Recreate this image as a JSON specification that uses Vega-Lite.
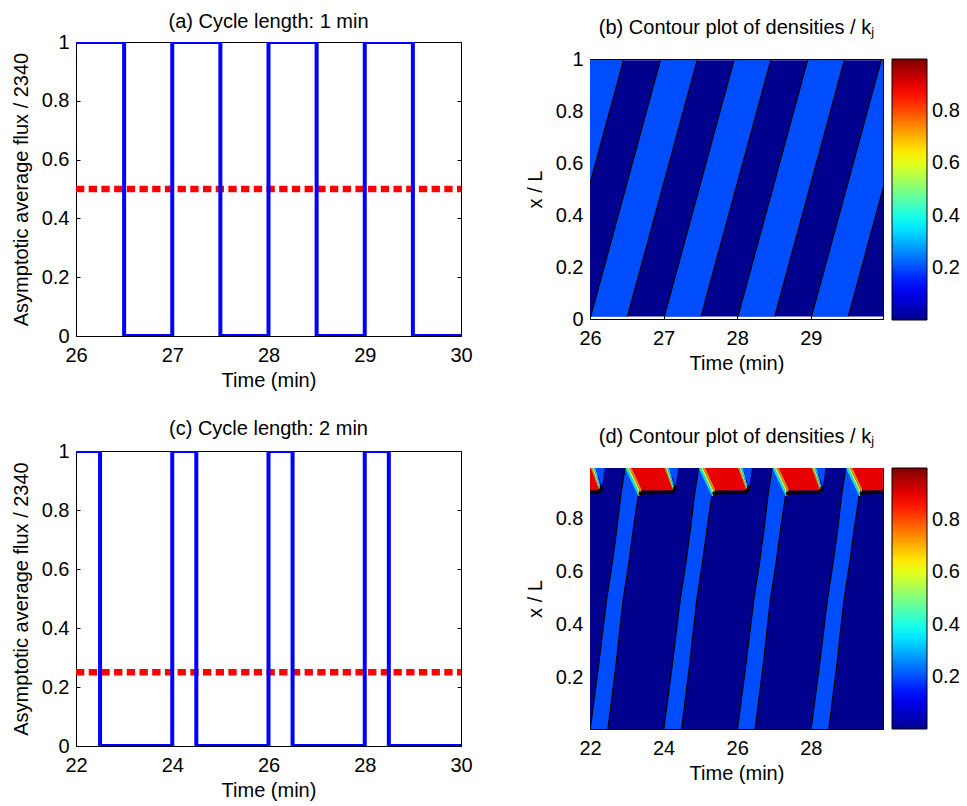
{
  "$schema": "https://vega.github.io/schema/vega-lite/v6.json",
  "background": "white",
  "padding": {"left": 10, "top": 11, "right": 5, "bottom": 5},
  "config": {
    "font": "Liberation Sans",
    "view": {"stroke": "#000000", "strokeWidth": 1},
    "axis": {"domain": false, "grid": false, "labelFont": "Liberation Sans", "labelFontSize": 20, "labelColor": "#000000", "titleFont": "Liberation Sans", "titleFontSize": 20, "titleFontWeight": "normal", "titleColor": "#000000", "tickColor": "#000000", "tickSize": -4, "tickWidth": 1, "labelPadding": 11, "titlePadding": 10, "labelFlush": false, "labelOverlap": false, "labelBound": false},
    "axisBottom": {"labelPadding": 13, "titlePadding": 5},
    "title": {"font": "Liberation Sans", "fontSize": 20, "fontWeight": "normal", "color": "#000000", "baseline": "alphabetic"}
  },
  "datasets": {
    "fluxA": [
      {"i": 0, "t": 26, "f": 1}, {"i": 1, "t": 26.5, "f": 1}, {"i": 2, "t": 26.5, "f": 0}, {"i": 3, "t": 27, "f": 0},
      {"i": 4, "t": 27, "f": 1}, {"i": 5, "t": 27.5, "f": 1}, {"i": 6, "t": 27.5, "f": 0}, {"i": 7, "t": 28, "f": 0},
      {"i": 8, "t": 28, "f": 1}, {"i": 9, "t": 28.5, "f": 1}, {"i": 10, "t": 28.5, "f": 0}, {"i": 11, "t": 29, "f": 0},
      {"i": 12, "t": 29, "f": 1}, {"i": 13, "t": 29.5, "f": 1}, {"i": 14, "t": 29.5, "f": 0}, {"i": 15, "t": 30, "f": 0}
    ],
    "fluxC": [
      {"i": 0, "t": 22, "f": 1}, {"i": 1, "t": 22.5, "f": 1}, {"i": 2, "t": 22.5, "f": 0}, {"i": 3, "t": 24, "f": 0},
      {"i": 4, "t": 24, "f": 1}, {"i": 5, "t": 24.5, "f": 1}, {"i": 6, "t": 24.5, "f": 0}, {"i": 7, "t": 26, "f": 0},
      {"i": 8, "t": 26, "f": 1}, {"i": 9, "t": 26.5, "f": 1}, {"i": 10, "t": 26.5, "f": 0}, {"i": 11, "t": 28, "f": 0},
      {"i": 12, "t": 28, "f": 1}, {"i": 13, "t": 28.5, "f": 1}, {"i": 14, "t": 28.5, "f": 0}, {"i": 15, "t": 30, "f": 0}
    ],
    "bStripes": [
      {"id": "k25", "y": 0.01, "x0": 25.0096, "x1": 25.5096, "v": 0.2}, {"id": "k25", "y": 0.995, "x0": 25.955, "x1": 26.455, "v": 0.2},
      {"id": "k26", "y": 0.01, "x0": 26.0096, "x1": 26.5096, "v": 0.2}, {"id": "k26", "y": 0.995, "x0": 26.955, "x1": 27.455, "v": 0.2},
      {"id": "k27", "y": 0.01, "x0": 27.0096, "x1": 27.5096, "v": 0.2}, {"id": "k27", "y": 0.995, "x0": 27.955, "x1": 28.455, "v": 0.2},
      {"id": "k28", "y": 0.01, "x0": 28.0096, "x1": 28.5096, "v": 0.2}, {"id": "k28", "y": 0.995, "x0": 28.955, "x1": 29.455, "v": 0.2},
      {"id": "k29", "y": 0.01, "x0": 29.0096, "x1": 29.5096, "v": 0.2}, {"id": "k29", "y": 0.995, "x0": 29.955, "x1": 30.455, "v": 0.2}
    ],
    "bEdges": [
      {"a": 25.5096, "b": 26.455, "ya": 0.01, "yb": 0.995},
      {"a": 26.0096, "b": 26.955, "ya": 0.01, "yb": 0.995},
      {"a": 26.5096, "b": 27.455, "ya": 0.01, "yb": 0.995},
      {"a": 27.0096, "b": 27.955, "ya": 0.01, "yb": 0.995},
      {"a": 27.5096, "b": 28.455, "ya": 0.01, "yb": 0.995},
      {"a": 28.0096, "b": 28.955, "ya": 0.01, "yb": 0.995},
      {"a": 28.5096, "b": 29.455, "ya": 0.01, "yb": 0.995},
      {"a": 29.0096, "b": 29.955, "ya": 0.01, "yb": 0.995},
      {"a": 29.5096, "b": 30.455, "ya": 0.01, "yb": 0.995}
    ],
    "dAreas": [
      {"id": "s22", "y": 0.0, "x0": 22.0, "x1": 22.48, "v": 0.2}, {"id": "s22", "y": 0.243, "x0": 22.23, "x1": 22.7, "v": 0.2}, {"id": "s22", "y": 0.494, "x0": 22.45, "x1": 22.9, "v": 0.2}, {"id": "s22", "y": 0.638, "x0": 22.61, "x1": 23.06, "v": 0.2}, {"id": "s22", "y": 0.763, "x0": 22.73, "x1": 23.18, "v": 0.2}, {"id": "s22", "y": 0.885, "x0": 22.835, "x1": 23.31, "v": 0.2}, {"id": "s22", "y": 0.99, "x0": 22.95, "x1": 22.95, "v": 0.2},
      {"id": "s24", "y": 0.0, "x0": 24.0, "x1": 24.48, "v": 0.2}, {"id": "s24", "y": 0.243, "x0": 24.23, "x1": 24.7, "v": 0.2}, {"id": "s24", "y": 0.494, "x0": 24.45, "x1": 24.9, "v": 0.2}, {"id": "s24", "y": 0.638, "x0": 24.61, "x1": 25.06, "v": 0.2}, {"id": "s24", "y": 0.763, "x0": 24.73, "x1": 25.18, "v": 0.2}, {"id": "s24", "y": 0.885, "x0": 24.835, "x1": 25.31, "v": 0.2}, {"id": "s24", "y": 0.99, "x0": 24.95, "x1": 24.95, "v": 0.2},
      {"id": "s26", "y": 0.0, "x0": 26.0, "x1": 26.48, "v": 0.2}, {"id": "s26", "y": 0.243, "x0": 26.23, "x1": 26.7, "v": 0.2}, {"id": "s26", "y": 0.494, "x0": 26.45, "x1": 26.9, "v": 0.2}, {"id": "s26", "y": 0.638, "x0": 26.61, "x1": 27.06, "v": 0.2}, {"id": "s26", "y": 0.763, "x0": 26.73, "x1": 27.18, "v": 0.2}, {"id": "s26", "y": 0.885, "x0": 26.835, "x1": 27.31, "v": 0.2}, {"id": "s26", "y": 0.99, "x0": 26.95, "x1": 26.95, "v": 0.2},
      {"id": "s28", "y": 0.0, "x0": 28.0, "x1": 28.48, "v": 0.2}, {"id": "s28", "y": 0.243, "x0": 28.23, "x1": 28.7, "v": 0.2}, {"id": "s28", "y": 0.494, "x0": 28.45, "x1": 28.9, "v": 0.2}, {"id": "s28", "y": 0.638, "x0": 28.61, "x1": 29.06, "v": 0.2}, {"id": "s28", "y": 0.763, "x0": 28.73, "x1": 29.18, "v": 0.2}, {"id": "s28", "y": 0.885, "x0": 28.835, "x1": 29.31, "v": 0.2}, {"id": "s28", "y": 0.99, "x0": 28.95, "x1": 28.95, "v": 0.2},
      {"id": "r20", "y": 0.905, "x0": 21.42, "x1": 22.25, "v": 0.9}, {"id": "r20", "y": 0.99, "x0": 21.13, "x1": 22.02, "v": 0.9},
      {"id": "r22", "y": 0.905, "x0": 23.42, "x1": 24.25, "v": 0.9}, {"id": "r22", "y": 0.99, "x0": 23.13, "x1": 24.02, "v": 0.9},
      {"id": "r24", "y": 0.905, "x0": 25.42, "x1": 26.25, "v": 0.9}, {"id": "r24", "y": 0.99, "x0": 25.13, "x1": 26.02, "v": 0.9},
      {"id": "r26", "y": 0.905, "x0": 27.42, "x1": 28.25, "v": 0.9}, {"id": "r26", "y": 0.99, "x0": 27.13, "x1": 28.02, "v": 0.9},
      {"id": "r28", "y": 0.905, "x0": 29.42, "x1": 30.25, "v": 0.9}, {"id": "r28", "y": 0.99, "x0": 29.13, "x1": 30.02, "v": 0.9},
      {"id": "fa22", "y": 0.885, "x0": 23.31, "x1": 23.3267, "v": 0.35}, {"id": "fa22", "y": 0.91, "x0": 23.224, "x1": 23.283, "v": 0.35}, {"id": "fa22", "y": 0.99, "x0": 22.95, "x1": 23.01, "v": 0.35},
      {"id": "fb22", "y": 0.885, "x0": 23.3267, "x1": 23.3433, "v": 0.55}, {"id": "fb22", "y": 0.91, "x0": 23.283, "x1": 23.341, "v": 0.55}, {"id": "fb22", "y": 0.99, "x0": 23.01, "x1": 23.07, "v": 0.55},
      {"id": "fc22", "y": 0.885, "x0": 23.3433, "x1": 23.36, "v": 0.75}, {"id": "fc22", "y": 0.91, "x0": 23.341, "x1": 23.4, "v": 0.75}, {"id": "fc22", "y": 0.99, "x0": 23.07, "x1": 23.13, "v": 0.75},
      {"id": "fa24", "y": 0.885, "x0": 25.31, "x1": 25.3267, "v": 0.35}, {"id": "fa24", "y": 0.91, "x0": 25.224, "x1": 25.283, "v": 0.35}, {"id": "fa24", "y": 0.99, "x0": 24.95, "x1": 25.01, "v": 0.35},
      {"id": "fb24", "y": 0.885, "x0": 25.3267, "x1": 25.3433, "v": 0.55}, {"id": "fb24", "y": 0.91, "x0": 25.283, "x1": 25.341, "v": 0.55}, {"id": "fb24", "y": 0.99, "x0": 25.01, "x1": 25.07, "v": 0.55},
      {"id": "fc24", "y": 0.885, "x0": 25.3433, "x1": 25.36, "v": 0.75}, {"id": "fc24", "y": 0.91, "x0": 25.341, "x1": 25.4, "v": 0.75}, {"id": "fc24", "y": 0.99, "x0": 25.07, "x1": 25.13, "v": 0.75},
      {"id": "fa26", "y": 0.885, "x0": 27.31, "x1": 27.3267, "v": 0.35}, {"id": "fa26", "y": 0.91, "x0": 27.224, "x1": 27.283, "v": 0.35}, {"id": "fa26", "y": 0.99, "x0": 26.95, "x1": 27.01, "v": 0.35},
      {"id": "fb26", "y": 0.885, "x0": 27.3267, "x1": 27.3433, "v": 0.55}, {"id": "fb26", "y": 0.91, "x0": 27.283, "x1": 27.341, "v": 0.55}, {"id": "fb26", "y": 0.99, "x0": 27.01, "x1": 27.07, "v": 0.55},
      {"id": "fc26", "y": 0.885, "x0": 27.3433, "x1": 27.36, "v": 0.75}, {"id": "fc26", "y": 0.91, "x0": 27.341, "x1": 27.4, "v": 0.75}, {"id": "fc26", "y": 0.99, "x0": 27.07, "x1": 27.13, "v": 0.75},
      {"id": "fa28", "y": 0.885, "x0": 29.31, "x1": 29.3267, "v": 0.35}, {"id": "fa28", "y": 0.91, "x0": 29.224, "x1": 29.283, "v": 0.35}, {"id": "fa28", "y": 0.99, "x0": 28.95, "x1": 29.01, "v": 0.35},
      {"id": "fb28", "y": 0.885, "x0": 29.3267, "x1": 29.3433, "v": 0.55}, {"id": "fb28", "y": 0.91, "x0": 29.283, "x1": 29.341, "v": 0.55}, {"id": "fb28", "y": 0.99, "x0": 29.01, "x1": 29.07, "v": 0.55},
      {"id": "fc28", "y": 0.885, "x0": 29.3433, "x1": 29.36, "v": 0.75}, {"id": "fc28", "y": 0.91, "x0": 29.341, "x1": 29.4, "v": 0.75}, {"id": "fc28", "y": 0.99, "x0": 29.07, "x1": 29.13, "v": 0.75},
      {"id": "ga20", "y": 0.905, "x0": 22.25, "x1": 22.27, "v": 0.75}, {"id": "ga20", "y": 0.99, "x0": 22.02, "x1": 22.063, "v": 0.75},
      {"id": "gb20", "y": 0.905, "x0": 22.27, "x1": 22.29, "v": 0.55}, {"id": "gb20", "y": 0.99, "x0": 22.063, "x1": 22.107, "v": 0.55},
      {"id": "gc20", "y": 0.905, "x0": 22.29, "x1": 22.31, "v": 0.35}, {"id": "gc20", "y": 0.99, "x0": 22.107, "x1": 22.15, "v": 0.35},
      {"id": "ga22", "y": 0.905, "x0": 24.25, "x1": 24.27, "v": 0.75}, {"id": "ga22", "y": 0.99, "x0": 24.02, "x1": 24.063, "v": 0.75},
      {"id": "gb22", "y": 0.905, "x0": 24.27, "x1": 24.29, "v": 0.55}, {"id": "gb22", "y": 0.99, "x0": 24.063, "x1": 24.107, "v": 0.55},
      {"id": "gc22", "y": 0.905, "x0": 24.29, "x1": 24.31, "v": 0.35}, {"id": "gc22", "y": 0.99, "x0": 24.107, "x1": 24.15, "v": 0.35},
      {"id": "ga24", "y": 0.905, "x0": 26.25, "x1": 26.27, "v": 0.75}, {"id": "ga24", "y": 0.99, "x0": 26.02, "x1": 26.063, "v": 0.75},
      {"id": "gb24", "y": 0.905, "x0": 26.27, "x1": 26.29, "v": 0.55}, {"id": "gb24", "y": 0.99, "x0": 26.063, "x1": 26.107, "v": 0.55},
      {"id": "gc24", "y": 0.905, "x0": 26.29, "x1": 26.31, "v": 0.35}, {"id": "gc24", "y": 0.99, "x0": 26.107, "x1": 26.15, "v": 0.35},
      {"id": "ga26", "y": 0.905, "x0": 28.25, "x1": 28.27, "v": 0.75}, {"id": "ga26", "y": 0.99, "x0": 28.02, "x1": 28.063, "v": 0.75},
      {"id": "gb26", "y": 0.905, "x0": 28.27, "x1": 28.29, "v": 0.55}, {"id": "gb26", "y": 0.99, "x0": 28.063, "x1": 28.107, "v": 0.55},
      {"id": "gc26", "y": 0.905, "x0": 28.29, "x1": 28.31, "v": 0.35}, {"id": "gc26", "y": 0.99, "x0": 28.107, "x1": 28.15, "v": 0.35},
      {"id": "w20", "y": 0.925, "x0": 22.315, "x1": 22.33, "v": 0.2}, {"id": "w20", "y": 0.99, "x0": 22.15, "x1": 22.4, "v": 0.2},
      {"id": "w22", "y": 0.925, "x0": 24.315, "x1": 24.33, "v": 0.2}, {"id": "w22", "y": 0.99, "x0": 24.15, "x1": 24.4, "v": 0.2},
      {"id": "w24", "y": 0.925, "x0": 26.315, "x1": 26.33, "v": 0.2}, {"id": "w24", "y": 0.99, "x0": 26.15, "x1": 26.4, "v": 0.2},
      {"id": "w26", "y": 0.925, "x0": 28.315, "x1": 28.33, "v": 0.2}, {"id": "w26", "y": 0.99, "x0": 28.15, "x1": 28.4, "v": 0.2}
    ],
    "dThin": [
      {"id": "L22", "i": 0, "t": 22.0, "y": 0.0}, {"id": "L22", "i": 1, "t": 22.23, "y": 0.243}, {"id": "L22", "i": 2, "t": 22.45, "y": 0.494}, {"id": "L22", "i": 3, "t": 22.61, "y": 0.638}, {"id": "L22", "i": 4, "t": 22.73, "y": 0.763}, {"id": "L22", "i": 5, "t": 22.835, "y": 0.885}, {"id": "L22", "i": 6, "t": 22.95, "y": 0.99},
      {"id": "L24", "i": 0, "t": 24.0, "y": 0.0}, {"id": "L24", "i": 1, "t": 24.23, "y": 0.243}, {"id": "L24", "i": 2, "t": 24.45, "y": 0.494}, {"id": "L24", "i": 3, "t": 24.61, "y": 0.638}, {"id": "L24", "i": 4, "t": 24.73, "y": 0.763}, {"id": "L24", "i": 5, "t": 24.835, "y": 0.885}, {"id": "L24", "i": 6, "t": 24.95, "y": 0.99},
      {"id": "L26", "i": 0, "t": 26.0, "y": 0.0}, {"id": "L26", "i": 1, "t": 26.23, "y": 0.243}, {"id": "L26", "i": 2, "t": 26.45, "y": 0.494}, {"id": "L26", "i": 3, "t": 26.61, "y": 0.638}, {"id": "L26", "i": 4, "t": 26.73, "y": 0.763}, {"id": "L26", "i": 5, "t": 26.835, "y": 0.885}, {"id": "L26", "i": 6, "t": 26.95, "y": 0.99},
      {"id": "L28", "i": 0, "t": 28.0, "y": 0.0}, {"id": "L28", "i": 1, "t": 28.23, "y": 0.243}, {"id": "L28", "i": 2, "t": 28.45, "y": 0.494}, {"id": "L28", "i": 3, "t": 28.61, "y": 0.638}, {"id": "L28", "i": 4, "t": 28.73, "y": 0.763}, {"id": "L28", "i": 5, "t": 28.835, "y": 0.885}, {"id": "L28", "i": 6, "t": 28.95, "y": 0.99},
      {"id": "R22", "i": 0, "t": 22.48, "y": 0.0}, {"id": "R22", "i": 1, "t": 22.7, "y": 0.243}, {"id": "R22", "i": 2, "t": 22.9, "y": 0.494}, {"id": "R22", "i": 3, "t": 23.06, "y": 0.638}, {"id": "R22", "i": 4, "t": 23.18, "y": 0.763}, {"id": "R22", "i": 5, "t": 23.31, "y": 0.885},
      {"id": "R24", "i": 0, "t": 24.48, "y": 0.0}, {"id": "R24", "i": 1, "t": 24.7, "y": 0.243}, {"id": "R24", "i": 2, "t": 24.9, "y": 0.494}, {"id": "R24", "i": 3, "t": 25.06, "y": 0.638}, {"id": "R24", "i": 4, "t": 25.18, "y": 0.763}, {"id": "R24", "i": 5, "t": 25.31, "y": 0.885},
      {"id": "R26", "i": 0, "t": 26.48, "y": 0.0}, {"id": "R26", "i": 1, "t": 26.7, "y": 0.243}, {"id": "R26", "i": 2, "t": 26.9, "y": 0.494}, {"id": "R26", "i": 3, "t": 27.06, "y": 0.638}, {"id": "R26", "i": 4, "t": 27.18, "y": 0.763}, {"id": "R26", "i": 5, "t": 27.31, "y": 0.885},
      {"id": "R28", "i": 0, "t": 28.48, "y": 0.0}, {"id": "R28", "i": 1, "t": 28.7, "y": 0.243}, {"id": "R28", "i": 2, "t": 28.9, "y": 0.494}, {"id": "R28", "i": 3, "t": 29.06, "y": 0.638}, {"id": "R28", "i": 4, "t": 29.18, "y": 0.763}, {"id": "R28", "i": 5, "t": 29.31, "y": 0.885}
    ],
    "dThick": [
      {"id": "K20", "i": 0, "t": 21.33, "y": 0.893}, {"id": "K20", "i": 1, "t": 21.5, "y": 0.898}, {"id": "K20", "i": 2, "t": 22.2, "y": 0.899}, {"id": "K20", "i": 3, "t": 22.29, "y": 0.906}, {"id": "K20", "i": 4, "t": 22.33, "y": 0.922},
      {"id": "K22", "i": 0, "t": 23.33, "y": 0.893}, {"id": "K22", "i": 1, "t": 23.5, "y": 0.898}, {"id": "K22", "i": 2, "t": 24.2, "y": 0.899}, {"id": "K22", "i": 3, "t": 24.29, "y": 0.906}, {"id": "K22", "i": 4, "t": 24.33, "y": 0.922},
      {"id": "K24", "i": 0, "t": 25.33, "y": 0.893}, {"id": "K24", "i": 1, "t": 25.5, "y": 0.898}, {"id": "K24", "i": 2, "t": 26.2, "y": 0.899}, {"id": "K24", "i": 3, "t": 26.29, "y": 0.906}, {"id": "K24", "i": 4, "t": 26.33, "y": 0.922},
      {"id": "K26", "i": 0, "t": 27.33, "y": 0.893}, {"id": "K26", "i": 1, "t": 27.5, "y": 0.898}, {"id": "K26", "i": 2, "t": 28.2, "y": 0.899}, {"id": "K26", "i": 3, "t": 28.29, "y": 0.906}, {"id": "K26", "i": 4, "t": 28.33, "y": 0.922},
      {"id": "K28", "i": 0, "t": 29.33, "y": 0.893}, {"id": "K28", "i": 1, "t": 29.5, "y": 0.898}, {"id": "K28", "i": 2, "t": 30.2, "y": 0.899}, {"id": "K28", "i": 3, "t": 30.29, "y": 0.906}, {"id": "K28", "i": 4, "t": 30.33, "y": 0.922}
    ]
  },
  "spacing": 27,
  "resolve": {"scale": {"color": "independent"}},
  "vconcat": [
    {
      "bounds": "flush",
      "center": true,
      "spacing": 129,
      "resolve": {"scale": {"color": "independent"}},
      "hconcat": [
        {
          "width": 385, "height": 294,
          "title": {"text": "(a) Cycle length: 1 min", "offset": 0},
          "resolve": {"axis": {"x": "independent", "y": "independent"}},
          "layer": [
            {
              "data": {"values": [{"t0": 26, "t1": 30, "f": 0.5}]},
              "mark": {"type": "rule", "color": "#ff0000", "strokeWidth": 6.5, "strokeDash": [8.3, 4.4]},
              "encoding": {
                "x": {"field": "t0", "type": "quantitative", "scale": {"domain": [26, 30], "nice": false, "zero": false}, "axis": {"orient": "top", "values": [26, 27, 28, 29, 30], "labels": false, "title": null}},
                "x2": {"field": "t1"},
                "y": {"field": "f", "type": "quantitative", "scale": {"domain": [0, 1], "nice": false}, "axis": {"orient": "right", "values": [0, 0.2, 0.4, 0.6, 0.8, 1], "labels": false, "title": null}}
              }
            },
            {
              "data": {"name": "fluxA"},
              "mark": {"type": "line", "color": "#0000ff", "strokeWidth": 4, "clip": true},
              "encoding": {
                "x": {"field": "t", "type": "quantitative", "scale": {"domain": [26, 30], "nice": false, "zero": false}, "axis": {"orient": "bottom", "values": [26, 27, 28, 29, 30], "format": "d", "title": "Time (min)"}},
                "y": {"field": "f", "type": "quantitative", "scale": {"domain": [0, 1], "nice": false}, "axis": {"orient": "left", "values": [0, 0.2, 0.4, 0.6, 0.8, 1], "format": "~g", "title": "Asymptotic average flux / 2340"}},
                "order": {"field": "i", "type": "quantitative"}
              }
            }
          ]
        },
        {
          "width": 293, "height": 260,
          "title": {"text": "(b) Contour plot of densities / kⱼ", "offset": 11},
          "resolve": {"axis": {"x": "independent", "y": "independent"}},
          "layer": [
            {
              "data": {"values": [{"x0": 26, "x1": 30, "y0": 0.01, "y1": 0.995, "v": 0}]},
              "mark": {"type": "rect", "clip": true},
              "encoding": {
                "x": {"field": "x0", "type": "quantitative", "scale": {"domain": [26, 29.98], "nice": false, "zero": false}, "axis": {"orient": "bottom", "values": [26, 27, 28, 29], "format": "d", "title": "Time (min)"}},
                "x2": {"field": "x1"},
                "y": {"field": "y0", "type": "quantitative", "scale": {"domain": [0, 1], "nice": false}, "axis": {"orient": "left", "values": [0, 0.2, 0.4, 0.6, 0.8, 1], "format": "~g", "title": "x / L"}},
                "y2": {"field": "y1"},
                "color": {"field": "v", "type": "quantitative", "scale": {"type": "linear", "domain": [0, 0.125, 0.375, 0.625, 0.875, 1], "range": ["#00008f", "#0000ff", "#00ffff", "#ffff00", "#ff0000", "#800000"], "interpolate": "rgb"},
                  "legend": {"orient": "right", "offset": 8, "padding": 0, "title": null, "type": "gradient", "direction": "vertical", "values": [0.2, 0.4, 0.6, 0.8], "format": "~g", "gradientLength": 261, "gradientThickness": 35, "gradientStrokeColor": "#000000", "gradientStrokeWidth": 1, "labelFont": "Liberation Sans", "labelFontSize": 20, "labelColor": "#000000", "labelOffset": 5, "labelOverlap": false}}
              }
            },
            {
              "data": {"name": "bStripes"},
              "mark": {"type": "area", "orient": "horizontal", "clip": true},
              "encoding": {
                "y": {"field": "y", "type": "quantitative", "axis": null},
                "x": {"field": "x0", "type": "quantitative", "axis": null},
                "x2": {"field": "x1"},
                "detail": {"field": "id"},
                "color": {"field": "v", "type": "quantitative", "scale": {"type": "linear", "domain": [0, 0.125, 0.375, 0.625, 0.875, 1], "range": ["#00008f", "#0000ff", "#00ffff", "#ffff00", "#ff0000", "#800000"], "interpolate": "rgb"}}
              }
            },
            {
              "data": {"name": "bEdges"},
              "mark": {"type": "rule", "color": "#000000", "strokeWidth": 1.2, "clip": true},
              "encoding": {
                "x": {"field": "a", "type": "quantitative", "axis": {"orient": "top", "values": [26, 27, 28, 29], "labels": false, "title": null}},
                "x2": {"field": "b"},
                "y": {"field": "ya", "type": "quantitative", "axis": {"orient": "right", "values": [0, 0.2, 0.4, 0.6, 0.8, 1], "labels": false, "title": null}},
                "y2": {"field": "yb"}
              }
            }
          ]
        }
      ]
    },
    {
      "bounds": "flush",
      "center": true,
      "spacing": 129,
      "resolve": {"scale": {"color": "independent"}},
      "hconcat": [
        {
          "width": 385, "height": 295,
          "title": {"text": "(c) Cycle length: 2 min", "offset": 2},
          "resolve": {"axis": {"x": "independent", "y": "independent"}},
          "layer": [
            {
              "data": {"values": [{"t0": 22, "t1": 30, "f": 0.25}]},
              "mark": {"type": "rule", "color": "#ff0000", "strokeWidth": 6.5, "strokeDash": [8.3, 4.4]},
              "encoding": {
                "x": {"field": "t0", "type": "quantitative", "scale": {"domain": [22, 30], "nice": false, "zero": false}, "axis": {"orient": "top", "values": [22, 24, 26, 28, 30], "labels": false, "title": null}},
                "x2": {"field": "t1"},
                "y": {"field": "f", "type": "quantitative", "scale": {"domain": [0, 1], "nice": false}, "axis": {"orient": "right", "values": [0, 0.2, 0.4, 0.6, 0.8, 1], "labels": false, "title": null}}
              }
            },
            {
              "data": {"name": "fluxC"},
              "mark": {"type": "line", "color": "#0000ff", "strokeWidth": 4, "clip": true},
              "encoding": {
                "x": {"field": "t", "type": "quantitative", "scale": {"domain": [22, 30], "nice": false, "zero": false}, "axis": {"orient": "bottom", "values": [22, 24, 26, 28, 30], "format": "d", "title": "Time (min)"}},
                "y": {"field": "f", "type": "quantitative", "scale": {"domain": [0, 1], "nice": false}, "axis": {"orient": "left", "values": [0, 0.2, 0.4, 0.6, 0.8, 1], "format": "~g", "title": "Asymptotic average flux / 2340"}},
                "order": {"field": "i", "type": "quantitative"}
              }
            }
          ]
        },
        {
          "width": 293, "height": 261,
          "title": {"text": "(d) Contour plot of densities / kⱼ", "offset": 21},
          "resolve": {"axis": {"x": "independent", "y": "independent"}},
          "layer": [
            {
              "data": {"values": [{"x0": 22, "x1": 30, "y0": 0, "y1": 1, "v": 0}]},
              "mark": {"type": "rect", "clip": true},
              "encoding": {
                "x": {"field": "x0", "type": "quantitative", "scale": {"domain": [22, 29.96], "nice": false, "zero": false}, "axis": {"orient": "bottom", "values": [22, 24, 26, 28], "format": "d", "title": "Time (min)"}},
                "x2": {"field": "x1"},
                "y": {"field": "y0", "type": "quantitative", "scale": {"domain": [0.008, 0.99], "nice": false, "zero": false}, "axis": {"orient": "left", "values": [0.2, 0.4, 0.6, 0.8], "format": "~g", "title": "x / L"}},
                "y2": {"field": "y1"},
                "color": {"field": "v", "type": "quantitative", "scale": {"type": "linear", "domain": [0, 0.125, 0.375, 0.625, 0.875, 1], "range": ["#00008f", "#0000ff", "#00ffff", "#ffff00", "#ff0000", "#800000"], "interpolate": "rgb"},
                  "legend": {"orient": "right", "offset": 8, "padding": 0, "title": null, "type": "gradient", "direction": "vertical", "values": [0.2, 0.4, 0.6, 0.8], "format": "~g", "gradientLength": 261, "gradientThickness": 35, "gradientStrokeColor": "#000000", "gradientStrokeWidth": 1, "labelFont": "Liberation Sans", "labelFontSize": 20, "labelColor": "#000000", "labelOffset": 5, "labelOverlap": false}}
              }
            },
            {
              "data": {"name": "dAreas"},
              "mark": {"type": "area", "orient": "horizontal", "clip": true},
              "encoding": {
                "y": {"field": "y", "type": "quantitative", "axis": null},
                "x": {"field": "x0", "type": "quantitative", "axis": null},
                "x2": {"field": "x1"},
                "detail": {"field": "id"},
                "color": {"field": "v", "type": "quantitative", "scale": {"type": "linear", "domain": [0, 0.125, 0.375, 0.625, 0.875, 1], "range": ["#00008f", "#0000ff", "#00ffff", "#ffff00", "#ff0000", "#800000"], "interpolate": "rgb"}}
              }
            },
            {
              "data": {"name": "dThin"},
              "mark": {"type": "line", "color": "#000000", "strokeWidth": 1.2, "clip": true},
              "encoding": {
                "x": {"field": "t", "type": "quantitative", "axis": null},
                "y": {"field": "y", "type": "quantitative", "axis": null},
                "detail": {"field": "id"},
                "order": {"field": "i", "type": "quantitative"}
              }
            },
            {
              "data": {"name": "dThick"},
              "mark": {"type": "line", "color": "#000000", "strokeWidth": 3.5, "clip": true},
              "encoding": {
                "x": {"field": "t", "type": "quantitative", "axis": {"orient": "top", "values": [22, 24, 26, 28], "labels": false, "title": null}},
                "y": {"field": "y", "type": "quantitative", "axis": {"orient": "right", "values": [0.2, 0.4, 0.6, 0.8], "labels": false, "title": null}},
                "detail": {"field": "id"},
                "order": {"field": "i", "type": "quantitative"}
              }
            }
          ]
        }
      ]
    }
  ]
}
